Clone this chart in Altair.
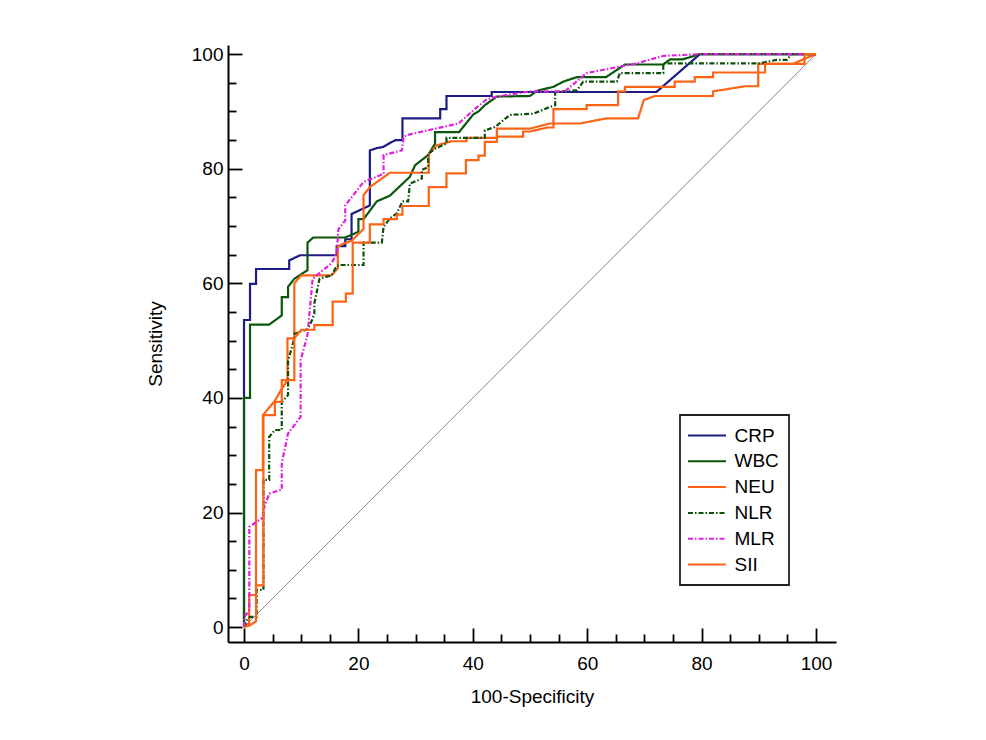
import altair as alt
import pandas as pd

series_names = ["CRP", "WBC", "NEU", "NLR", "MLR", "SII"]
series_colors = ["#1c1c84", "#0a560a", "#fa6414", "#0a500a", "#e020e0", "#fa6414"]
series_dashes = [[1, 0], [1, 0], [1, 0], [5, 2, 1.5, 2], [5, 2, 1.5, 2], [1, 0]]

crp_x = [0, 0, 1.05, 1.05, 2.1, 2.1, 7.9, 7.9, 9.8, 16.2, 16.2, 17.7, 17.7, 18.8, 18.8, 22.0, 22.0, 23.2, 24.3, 25.5, 26.5, 27.7, 27.7, 34.3, 34.3, 35.4, 35.4, 43.3, 43.3, 72.1, 79.7, 100]
crp_y = [0, 53.6, 53.6, 59.9, 59.9, 62.5, 62.5, 64.0, 64.9, 64.9, 66.5, 66.5, 67.7, 67.7, 72.1, 73.6, 83.2, 83.6, 83.8, 84.5, 85.0, 85.0, 88.8, 88.8, 90.4, 90.4, 92.7, 92.7, 93.4, 93.4, 100, 100]

wbc_x = [0, 0, 1.05, 1.05, 4.4, 6.6, 6.6, 7.7, 7.7, 8.8, 11.1, 11.1, 12.1, 17.7, 20.0, 20.0, 20.9, 23.2, 25.5, 29.0, 29.9, 32.2, 33.4, 33.4, 37.6, 40.1, 41.0, 42.1, 44.2, 50.0, 51.2, 54.1, 55.8, 58.2, 63.3, 66.6, 73.3, 74.5, 76.7, 79.7, 100]
wbc_y = [0, 40.0, 40.0, 52.8, 52.8, 54.4, 57.6, 57.6, 59.4, 60.8, 62.3, 67.1, 68.0, 68.0, 69.0, 71.2, 71.2, 74.3, 75.3, 78.6, 80.6, 82.4, 84.4, 86.4, 86.4, 89.5, 90.0, 91.1, 92.6, 92.7, 93.6, 94.3, 95.2, 96.0, 96.0, 98.2, 98.2, 99.1, 99.1, 100, 100]

neu_x = [0, 0.9, 0.9, 2.1, 2.1, 3.3, 3.3, 5.4, 6.6, 6.6, 7.6, 7.6, 8.8, 8.8, 10.0, 15.3, 16.4, 16.4, 17.5, 18.8, 20.9, 20.9, 22.0, 25.5, 32.3, 32.3, 33.7, 36.3, 38.9, 38.9, 44.2, 44.2, 50.0, 53.5, 58.7, 63.4, 68.9, 69.9, 71.9, 82.0, 82.0, 87.6, 89.9, 89.9, 96.0, 98.0, 100]
neu_y = [0, 0.6, 5.6, 5.6, 27.4, 27.4, 37.0, 39.5, 41.6, 43.1, 43.1, 50.4, 50.4, 60.0, 61.4, 61.4, 62.6, 66.4, 67.0, 67.4, 69.5, 75.4, 76.8, 79.3, 79.3, 82.6, 84.1, 84.8, 84.8, 85.4, 85.4, 87.0, 87.0, 87.9, 87.9, 88.8, 88.8, 92.0, 92.7, 92.7, 93.5, 94.4, 94.4, 98.3, 98.3, 99.2, 100]

nlr_x = [0, 0.5, 1.05, 2.2, 2.2, 3.4, 3.4, 4.4, 4.4, 5.4, 6.6, 6.6, 7.7, 7.7, 8.8, 8.8, 11.1, 11.9, 12.3, 12.3, 13.2, 15.3, 16.2, 16.7, 20.9, 20.9, 24.1, 24.4, 25.5, 26.7, 27.7, 28.7, 29.0, 31.1, 31.1, 32.2, 32.2, 33.4, 35.4, 35.4, 42.1, 42.1, 43.9, 46.5, 50.6, 53.5, 54.4, 54.4, 58.2, 59.3, 65.2, 65.7, 73.3, 73.3, 90.2, 93.1, 94.9, 95.7, 100]
nlr_y = [0, 1.2, 1.8, 1.8, 6.5, 6.5, 25.7, 25.7, 33.2, 34.4, 34.4, 39.3, 40.5, 46.5, 50.4, 51.2, 52.0, 53.6, 54.7, 56.5, 60.8, 61.4, 63.0, 63.2, 63.2, 67.1, 67.1, 69.9, 71.3, 72.2, 74.3, 74.3, 77.4, 78.3, 79.8, 80.3, 82.6, 83.5, 84.4, 85.4, 85.4, 86.7, 87.3, 89.4, 89.6, 90.8, 91.1, 93.4, 93.7, 95.2, 95.2, 96.7, 96.7, 98.4, 98.4, 99.0, 99.0, 100, 100]

mlr_x = [0, 0.1, 0.93, 0.93, 2.7, 3.4, 3.4, 4.4, 6.6, 6.6, 7.7, 9.9, 9.9, 11.1, 12.0, 12.7, 15.3, 16.2, 16.5, 17.7, 17.7, 20.9, 24.4, 24.4, 27.6, 27.9, 29.0, 37.5, 40.1, 42.4, 44.2, 50.0, 56.1, 59.9, 64.0, 68.7, 73.3, 79.7, 100]
mlr_y = [0, 1.8, 3.0, 17.5, 18.7, 19.2, 20.5, 23.3, 24.0, 28.6, 33.8, 36.7, 46.6, 51.0, 60.8, 61.4, 63.5, 65.2, 69.4, 71.0, 73.6, 77.7, 79.1, 82.4, 83.2, 85.6, 86.0, 87.9, 90.2, 92.1, 92.6, 93.5, 93.5, 96.7, 97.5, 98.4, 99.7, 100, 100]

sii_x = [0, 1.0, 2.1, 2.1, 3.4, 3.4, 5.4, 5.4, 6.6, 6.6, 7.6, 8.8, 8.8, 10.0, 12.3, 12.3, 15.5, 15.5, 17.8, 17.8, 19.0, 19.0, 22.0, 22.0, 24.4, 24.4, 26.7, 26.7, 27.7, 27.7, 32.3, 32.3, 35.4, 35.4, 38.8, 38.8, 41.0, 41.0, 42.1, 42.1, 44.2, 44.2, 48.8, 48.8, 50.0, 53.0, 54.1, 54.1, 59.9, 59.9, 65.4, 65.4, 66.6, 66.6, 75.3, 75.3, 78.8, 78.8, 82.0, 82.0, 91.1, 91.1, 98.0, 98.0, 100]
sii_y = [0, 0.3, 1.0, 7.3, 7.3, 37.0, 37.0, 39.3, 39.3, 41.6, 43.1, 43.1, 50.4, 51.9, 51.9, 52.7, 52.7, 56.8, 56.8, 58.2, 58.2, 67.1, 67.1, 70.3, 70.3, 71.2, 71.2, 72.0, 72.0, 73.5, 73.5, 76.8, 76.8, 79.2, 79.2, 81.5, 81.5, 82.3, 82.3, 84.7, 84.7, 85.6, 85.6, 86.5, 86.5, 87.2, 87.2, 90.4, 90.4, 91.1, 91.1, 93.5, 93.5, 94.3, 94.3, 95.2, 95.2, 96.0, 96.0, 96.8, 96.8, 98.3, 98.3, 100, 100]

ref_x = [0, 100]
ref_y = [0, 100]

tick_values = list(range(0, 101, 5))

curves = [(crp_x, crp_y), (wbc_x, wbc_y), (neu_x, neu_y), (nlr_x, nlr_y), (mlr_x, mlr_y), (sii_x, sii_y)]
rows = []
for k, (name, (xs, ys)) in enumerate(zip(series_names, curves)):
    for i, (xv, yv) in enumerate(zip(xs, ys)):
        rows.append({"series": name, "s": k, "i": i, "x": xv, "y": yv})
df = pd.DataFrame(rows)
ref_df = pd.DataFrame({"x": ref_x, "y": ref_y})

FONT = "Liberation Sans"
FS = 19

def make_axis(title, extra):
    return alt.Axis(
        values=tick_values,
        title=title,
        labelExpr="datum.value % 20 === 0 ? datum.label : ''",
        tickSize={"expr": "datum.value % 20 === 0 ? -14 : -8"},
        grid=False,
        domainColor="black",
        domainWidth=2,
        tickColor="black",
        tickWidth=1.8,
        labelFont=FONT,
        labelFontSize=FS,
        labelColor="black",
        labelFlush=False,
        labelOverlap=False,
        titleFont=FONT,
        titleFontSize=FS,
        titleFontWeight="normal",
        titleColor="black",
        titleBaseline="middle",
        **extra,
    )

x_axis = make_axis("100-Specificity", {"labelPadding": 26, "titleY": 54})
y_axis = make_axis("Sensitivity", {"labelPadding": 19, "titleX": -73})

x_scale = alt.Scale(domain=[-2.8, 103.5], nice=False, zero=False)
y_scale = alt.Scale(domain=[-2.6, 101.6], nice=False, zero=False)

legend = alt.Legend(
    orient="none",
    legendX=452,
    legendY=370,
    strokeColor="#222222",
    padding=10,
    symbolType="M-2,0H2",
    symbolSize=361,
    symbolStrokeWidth=2,
    symbolOffset=6.5,
    labelFont=FONT,
    labelFontSize=FS,
    labelColor="black",
    labelOffset=17,
    labelExpr="datum.label + '\u00a0\u00a0\u00a0\u00a0\u00a0'",
    rowPadding=4.8,
)

diag = alt.Chart(ref_df).mark_line(color="#a07c7c", strokeWidth=1).encode(
    x=alt.X("x:Q", scale=x_scale, axis=x_axis),
    y=alt.Y("y:Q", scale=y_scale, axis=y_axis),
)

lines = alt.Chart(df).mark_line(strokeWidth=2.2).encode(
    x=alt.X("x:Q", scale=x_scale, axis=x_axis),
    y=alt.Y("y:Q", scale=y_scale, axis=y_axis),
    color=alt.Color("series:N", scale=alt.Scale(domain=series_names, range=series_colors), legend=legend, title=None),
    strokeDash=alt.StrokeDash("series:N", scale=alt.Scale(domain=series_names, range=series_dashes), legend=legend, title=None),
    order=alt.Order("i:Q"),
)

chart = alt.layer(diag, lines).properties(
    width=608,
    height=597,
    autosize=alt.AutoSizeParams(type="none"),
    padding={"left": 220, "top": 37, "right": 130, "bottom": 80},
).configure_view(stroke=None).configure_legend(strokeWidth=1.8)

chart.save("out.html", embed_options={"renderer": "svg", "actions": False})
